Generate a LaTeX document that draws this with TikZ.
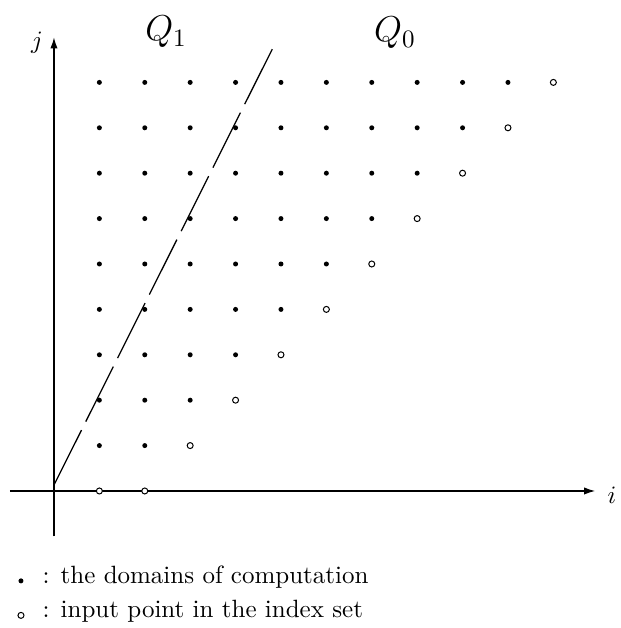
\documentclass[tikz,border=0pt]{standalone}
\usetikzlibrary{arrows.meta}
\begin{document}
\begin{tikzpicture}[x=18.16pt,y=18.16pt,
  axis/.style={line width=0.45pt,-{Latex[length=4.4pt,width=2.9pt]}},
  compdot/.style={circle,fill=black,inner sep=0pt,minimum size=2pt},
  inpoint/.style={circle,draw=black,line width=0.4pt,fill=white,inner sep=0pt,minimum size=2.4pt},
  boundary/.style={line width=0.5pt,dash pattern=on 24.6pt off 3.8pt},
  lbl/.style={inner sep=0pt}]
\useasboundingbox (-1.189,-3.018) rectangle (12.489,10.815);
% axes
\coordinate (xs) at (-0.97,0);
\coordinate (xe) at (11.92,0);
\coordinate (ys) at (0,-1.0);
\coordinate (ye) at (0,9.99);
\draw[axis] (xs) -- (xe);
\draw[axis] (ys) -- (ye);
\node[lbl] (ilab) at (12.29,-0.09) {$i$};
\node[lbl] (jlab) at (-0.374,9.87) {$j$};
% region labels
\node[lbl] (q1) at (2.47,10.11) {\Large $Q_1$};
\node[lbl] (q0) at (7.51,10.09) {\Large $Q_0$};
% boundary line
\coordinate (ls) at (0,0.13);
\coordinate (le) at (4.817,9.75);
\draw[boundary] (ls) -- (le);
% lattice points
\foreach \j in {0,...,9}{
  \pgfmathtruncatemacro{\last}{\j+1}
  \ifnum\j>0
    \foreach \i in {1,...,\last}{
      \node[compdot] (p-\i-\j) at (\i,\j) {};
    }
  \fi
  \pgfmathtruncatemacro{\c}{\j+2}
  \node[inpoint] (c-\c-\j) at (\c,\j) {};
}
\node[inpoint] (c-1-0) at (1,0) {};
% legend
\node[compdot] (legdot) at (-0.727,-1.98) {};
\node[lbl,anchor=base west] (legt1) at (-0.26,-2.03) {: the domains of computation};
\node[inpoint] (legcirc) at (-0.727,-2.74) {};
\node[lbl,anchor=base west] (legt2) at (-0.26,-2.78) {: input point in the index set};
\end{tikzpicture}
\end{document}
